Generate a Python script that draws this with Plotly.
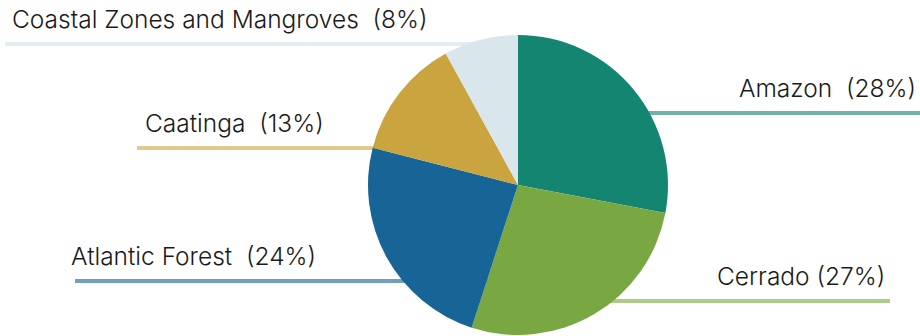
import plotly.graph_objects as go

W, H = 920, 336

# data
biomes = ["Amazon", "Cerrado", "Atlantic Forest", "Caatinga", "Coastal Zones and Mangroves"]
shares = [28, 27, 24, 13, 8]
label_gap = ["\u00a0", "", "\u00a0", "\u00a0", "\u00a0"]

# styles
slice_colors = ["#148570", "#79a843", "#176496", "#c9a43f", "#d9e6ec"]
line_colors = ["#70b3a6", "#accb88", "#6f9fc2", "#e0c98c", "#e4edf1"]

# layout (pixels): pie centre/radius, label line y, line outer x, text anchor
cx, cy, r = 518, 185, 150
line_y = [113, 301, 281, 148, 44]
line_outer_x = [920, 890, 75, 137, 5]
text_x = [918, 887, 69, 143, 10]
text_side = ["right", "right", "left", "left", "left"]


def px(x):
    return x / W


def py(y):
    return 1 - y / H


fig = go.Figure()
fig.add_trace(go.Pie(
    labels=biomes,
    values=shares,
    sort=False,
    direction="clockwise",
    rotation=0,
    marker=dict(colors=slice_colors, line=dict(width=0)),
    textinfo="none",
    hoverinfo="label+percent",
    showlegend=False,
    domain=dict(x=[px(cx - r), px(cx + r)], y=[py(cy + r), py(cy - r)]),
))

for i, name in enumerate(biomes):
    fig.add_shape(type="line", xref="paper", yref="paper", layer="below",
                  x0=px(line_outer_x[i]), x1=px(cx), y0=py(line_y[i]), y1=py(line_y[i]),
                  line=dict(color=line_colors[i], width=4))
    fig.add_annotation(xref="paper", yref="paper",
                       x=px(text_x[i]), y=py(line_y[i] - 8),
                       xanchor=text_side[i], yanchor="bottom",
                       text=f"{name} {label_gap[i]}({shares[i]}%)",
                       showarrow=False,
                       font=dict(family="Inter", size=24.5, weight=300, color="#1a1a1a"))

fig.update_layout(width=W, height=H, margin=dict(l=0, r=0, t=0, b=0),
                  paper_bgcolor="white", plot_bgcolor="white")
fig.write_html("out.html")
